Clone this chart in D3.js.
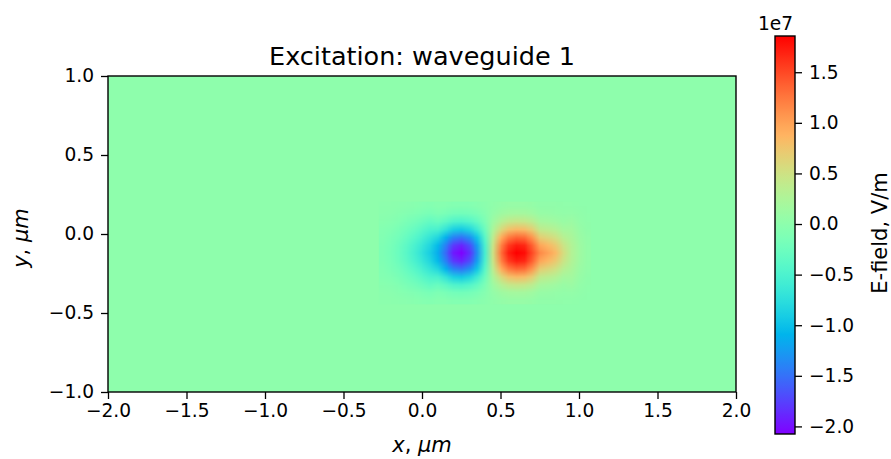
<!DOCTYPE html>
<html>
<head>
<meta charset="utf-8">
<script src="https://cdn.jsdelivr.net/npm/d3@7"></script>
<style>
  html, body { margin: 0; padding: 0; background: #fff; }
  svg text { font-family: "DejaVu Sans", sans-serif; fill: #000; }
</style>
</head>
<body>
<div id="chart"></div>
<script>
var W = 891, H = 459;

/* Поле в единицах 1e7 В/м, вокруг волноводов */
var gridX = [-0.25, -0.20, -0.15, -0.10, -0.05, 0.00, 0.05, 0.10, 0.15, 0.20, 0.25, 0.30, 0.35,
             0.40, 0.45, 0.50, 0.55, 0.60, 0.65, 0.70, 0.75, 0.80, 0.85, 0.90, 0.95, 1.00, 1.05];
var gridY = [0.18, 0.13, 0.08, 0.03, -0.02, -0.07, -0.12, -0.17, -0.22, -0.27, -0.32, -0.37, -0.42];
var field = [
  [-0.01,-0.01,-0.02,-0.03,-0.04,-0.06,-0.07,-0.05,-0.06,-0.08,-0.08,-0.07,-0.05,-0.02,0.02,0.05,0.07,0.07,0.07,0.06,0.03,0.03,0.03,0.02,0.02,0.01,0.00],
  [-0.02,-0.03,-0.05,-0.07,-0.10,-0.13,-0.16,-0.12,-0.16,-0.20,-0.21,-0.19,-0.14,-0.06,0.05,0.13,0.17,0.19,0.18,0.15,0.08,0.07,0.06,0.04,0.05,0.03,0.01],
  [-0.04,-0.06,-0.09,-0.14,-0.19,-0.25,-0.32,-0.28,-0.37,-0.47,-0.50,-0.44,-0.32,-0.13,0.12,0.30,0.41,0.45,0.43,0.36,0.20,0.17,0.14,0.09,0.11,0.05,0.02],
  [-0.07,-0.10,-0.15,-0.22,-0.30,-0.40,-0.50,-0.52,-0.70,-0.88,-0.93,-0.83,-0.61,-0.25,0.23,0.56,0.77,0.84,0.81,0.68,0.40,0.35,0.30,0.19,0.17,0.08,0.03],
  [-0.09,-0.14,-0.20,-0.30,-0.41,-0.54,-0.68,-0.83,-1.12,-1.40,-1.49,-1.33,-0.97,-0.40,0.36,0.90,1.22,1.34,1.30,1.08,0.69,0.60,0.51,0.33,0.23,0.11,0.05],
  [-0.11,-0.17,-0.25,-0.37,-0.51,-0.66,-0.83,-1.06,-1.43,-1.79,-1.90,-1.70,-1.24,-0.51,0.46,1.15,1.56,1.71,1.66,1.38,0.98,0.85,0.72,0.47,0.28,0.14,0.06],
  [-0.12,-0.18,-0.27,-0.40,-0.55,-0.72,-0.90,-1.15,-1.55,-1.95,-2.07,-1.85,-1.35,-0.55,0.50,1.25,1.70,1.86,1.80,1.50,1.15,1.00,0.85,0.55,0.30,0.15,0.06],
  [-0.11,-0.17,-0.25,-0.37,-0.51,-0.66,-0.83,-1.06,-1.43,-1.79,-1.90,-1.70,-1.24,-0.51,0.46,1.15,1.56,1.71,1.66,1.38,0.98,0.85,0.72,0.47,0.28,0.14,0.06],
  [-0.09,-0.14,-0.20,-0.30,-0.41,-0.54,-0.68,-0.83,-1.12,-1.40,-1.49,-1.33,-0.97,-0.40,0.36,0.90,1.22,1.34,1.30,1.08,0.69,0.60,0.51,0.33,0.23,0.11,0.05],
  [-0.07,-0.10,-0.15,-0.22,-0.30,-0.40,-0.50,-0.52,-0.70,-0.88,-0.93,-0.83,-0.61,-0.25,0.23,0.56,0.77,0.84,0.81,0.68,0.40,0.35,0.30,0.19,0.17,0.08,0.03],
  [-0.04,-0.06,-0.09,-0.14,-0.19,-0.25,-0.32,-0.28,-0.37,-0.47,-0.50,-0.44,-0.32,-0.13,0.12,0.30,0.41,0.45,0.43,0.36,0.20,0.17,0.14,0.09,0.11,0.05,0.02],
  [-0.02,-0.03,-0.05,-0.07,-0.10,-0.13,-0.16,-0.12,-0.16,-0.20,-0.21,-0.19,-0.14,-0.06,0.05,0.13,0.17,0.19,0.18,0.15,0.08,0.07,0.06,0.04,0.05,0.03,0.01],
  [-0.01,-0.01,-0.02,-0.03,-0.04,-0.06,-0.07,-0.05,-0.06,-0.08,-0.08,-0.07,-0.05,-0.02,0.02,0.05,0.07,0.07,0.07,0.06,0.03,0.03,0.03,0.02,0.02,0.01,0.00]
];
var backgroundValue = 0;

var xDomain = [-2, 2];
var yDomain = [-1, 1];
var xTicks = [-2.0, -1.5, -1.0, -0.5, 0.0, 0.5, 1.0, 1.5, 2.0];
var yTicks = [-1.0, -0.5, 0.0, 0.5, 1.0];
var cbDomain = [-2.075, 1.858];
var cbTicks = [-2.0, -1.5, -1.0, -0.5, 0.0, 0.5, 1.0, 1.5];

var titleText = 'Excitation: waveguide 1';
var cbLabel = 'E-field, V/m';
var cbOffset = '1e7';

/* matplotlib 'rainbow' */
function rainbow(t)
{
    var r = Math.abs(2 * t - 0.5);
    var g = Math.sin(Math.PI * t);
    var b = Math.cos(Math.PI * t / 2);
    var c = function(v) { return Math.round(255 * Math.max(0, Math.min(1, v))); };
    return 'rgb(' + c(r) + ',' + c(g) + ',' + c(b) + ')';
}

var color = d3.scaleSequential(rainbow).domain(cbDomain);

var svg = d3.select('#chart').append('svg')
    .attr('width', W)
    .attr('height', H);

var plot = {left: 108, top: 76, right: 736, bottom: 392};
var x = d3.scaleLinear().domain(xDomain).range([plot.left, plot.right]);
var y = d3.scaleLinear().domain(yDomain).range([plot.bottom, plot.top]);

var defs = svg.append('defs');
defs.append('clipPath').attr('id', 'plotClip')
    .append('rect')
    .attr('x', plot.left).attr('y', plot.top)
    .attr('width', plot.right - plot.left)
    .attr('height', plot.bottom - plot.top);

/* Фон поля */
svg.append('rect')
   .attr('x', plot.left).attr('y', plot.top)
   .attr('width', plot.right - plot.left)
   .attr('height', plot.bottom - plot.top)
   .attr('fill', color(backgroundValue));

/* Сетка значений -> маленький canvas -> растянутая картинка */
var nx = gridX.length, ny = gridY.length;
var cnv = document.createElement('canvas');
cnv.width = nx;
cnv.height = ny;
var ctx = cnv.getContext('2d');
field.forEach(function(row, j) {
    row.forEach(function(v, i) {
        ctx.fillStyle = color(v);
        ctx.fillRect(i, j, 1, 1);
    });
});

var dx = gridX[1] - gridX[0];
var dy = gridY[0] - gridY[1];
var imgX0 = x(gridX[0] - dx / 2), imgX1 = x(gridX[nx - 1] + dx / 2);
var imgY0 = y(gridY[0] + dy / 2), imgY1 = y(gridY[ny - 1] - dy / 2);

svg.append('g').attr('clip-path', 'url(#plotClip)')
   .append('image')
   .attr('href', cnv.toDataURL('image/png'))
   .attr('x', imgX0).attr('y', imgY0)
   .attr('width', imgX1 - imgX0)
   .attr('height', imgY1 - imgY0)
   .attr('preserveAspectRatio', 'none')
   .style('image-rendering', 'auto');

/* Оси */
var fmt = d3.format('.1f');
var tickFont = 18.6;

var xAxis = svg.append('g')
    .attr('transform', 'translate(0,' + plot.bottom + ')')
    .call(d3.axisBottom(x).tickValues(xTicks).tickFormat(fmt).tickSizeInner(7).tickSizeOuter(0).tickPadding(5));
var yAxis = svg.append('g')
    .attr('transform', 'translate(' + plot.left + ',0)')
    .call(d3.axisLeft(y).tickValues(yTicks).tickFormat(fmt).tickSizeInner(7).tickSizeOuter(0).tickPadding(7));

[xAxis, yAxis].forEach(function(a) {
    a.select('.domain').remove();
    a.selectAll('.tick line').attr('stroke', '#000').attr('stroke-width', 1.3);
    a.selectAll('.tick text')
     .style('font-family', '"DejaVu Sans", sans-serif')
     .style('font-size', tickFont + 'px')
     .attr('fill', '#000');
});

svg.append('rect')
   .attr('x', plot.left).attr('y', plot.top)
   .attr('width', plot.right - plot.left)
   .attr('height', plot.bottom - plot.top)
   .attr('fill', 'none')
   .attr('stroke', '#000')
   .attr('stroke-width', 1.4);

/* Подписи */
svg.append('text')
   .attr('x', (plot.left + plot.right) / 2)
   .attr('y', 65)
   .attr('text-anchor', 'middle')
   .style('font-size', '25.5px')
   .text(titleText);

var xl = svg.append('text')
   .attr('x', (plot.left + plot.right) / 2)
   .attr('y', 452)
   .attr('text-anchor', 'middle')
   .style('font-size', '21px');
xl.append('tspan').style('font-style', 'italic').text('x');
xl.append('tspan').text(', ');
xl.append('tspan').style('font-style', 'italic').text('\u03bcm');

var yl = svg.append('text')
   .attr('transform', 'translate(28,' + ((plot.top + plot.bottom) / 2 + 4) + ') rotate(-90)')
   .attr('text-anchor', 'middle')
   .style('font-size', '21px');
yl.append('tspan').style('font-style', 'italic').text('y');
yl.append('tspan').text(', ');
yl.append('tspan').style('font-style', 'italic').text('\u03bcm');

/* Цветовая шкала */
var cb = {left: 775, right: 795, top: 36, bottom: 434};
var cbY = d3.scaleLinear().domain(cbDomain).range([cb.bottom, cb.top]);

var grad = defs.append('linearGradient')
    .attr('id', 'cbGrad')
    .attr('x1', 0).attr('y1', 1).attr('x2', 0).attr('y2', 0);
grad.selectAll('stop')
    .data(d3.range(0, 1.0001, 1 / 128))
    .enter().append('stop')
    .attr('offset', function(d) { return d; })
    .attr('stop-color', function(d) { return rainbow(d); });

svg.append('rect')
   .attr('x', cb.left).attr('y', cb.top)
   .attr('width', cb.right - cb.left)
   .attr('height', cb.bottom - cb.top)
   .attr('fill', 'url(#cbGrad)')
   .attr('stroke', '#000')
   .attr('stroke-width', 1.4);

var cbAxis = svg.append('g')
    .attr('transform', 'translate(' + cb.right + ',0)')
    .call(d3.axisRight(cbY).tickValues(cbTicks).tickFormat(fmt).tickSizeInner(7).tickSizeOuter(0).tickPadding(7));
cbAxis.select('.domain').remove();
cbAxis.selectAll('.tick line').attr('stroke', '#000').attr('stroke-width', 1.3);
cbAxis.selectAll('.tick text')
      .style('font-family', '"DejaVu Sans", sans-serif')
      .style('font-size', tickFont + 'px')
      .attr('fill', '#000');

svg.append('text')
   .attr('x', 793)
   .attr('y', 30)
   .attr('text-anchor', 'end')
   .style('font-size', tickFont + 'px')
   .text(cbOffset);

svg.append('text')
   .attr('transform', 'translate(887,' + (cb.top + cb.bottom - 4) / 2 + ') rotate(-90)')
   .attr('text-anchor', 'middle')
   .style('font-size', '21px')
   .text(cbLabel);
</script>
</body>
</html>
